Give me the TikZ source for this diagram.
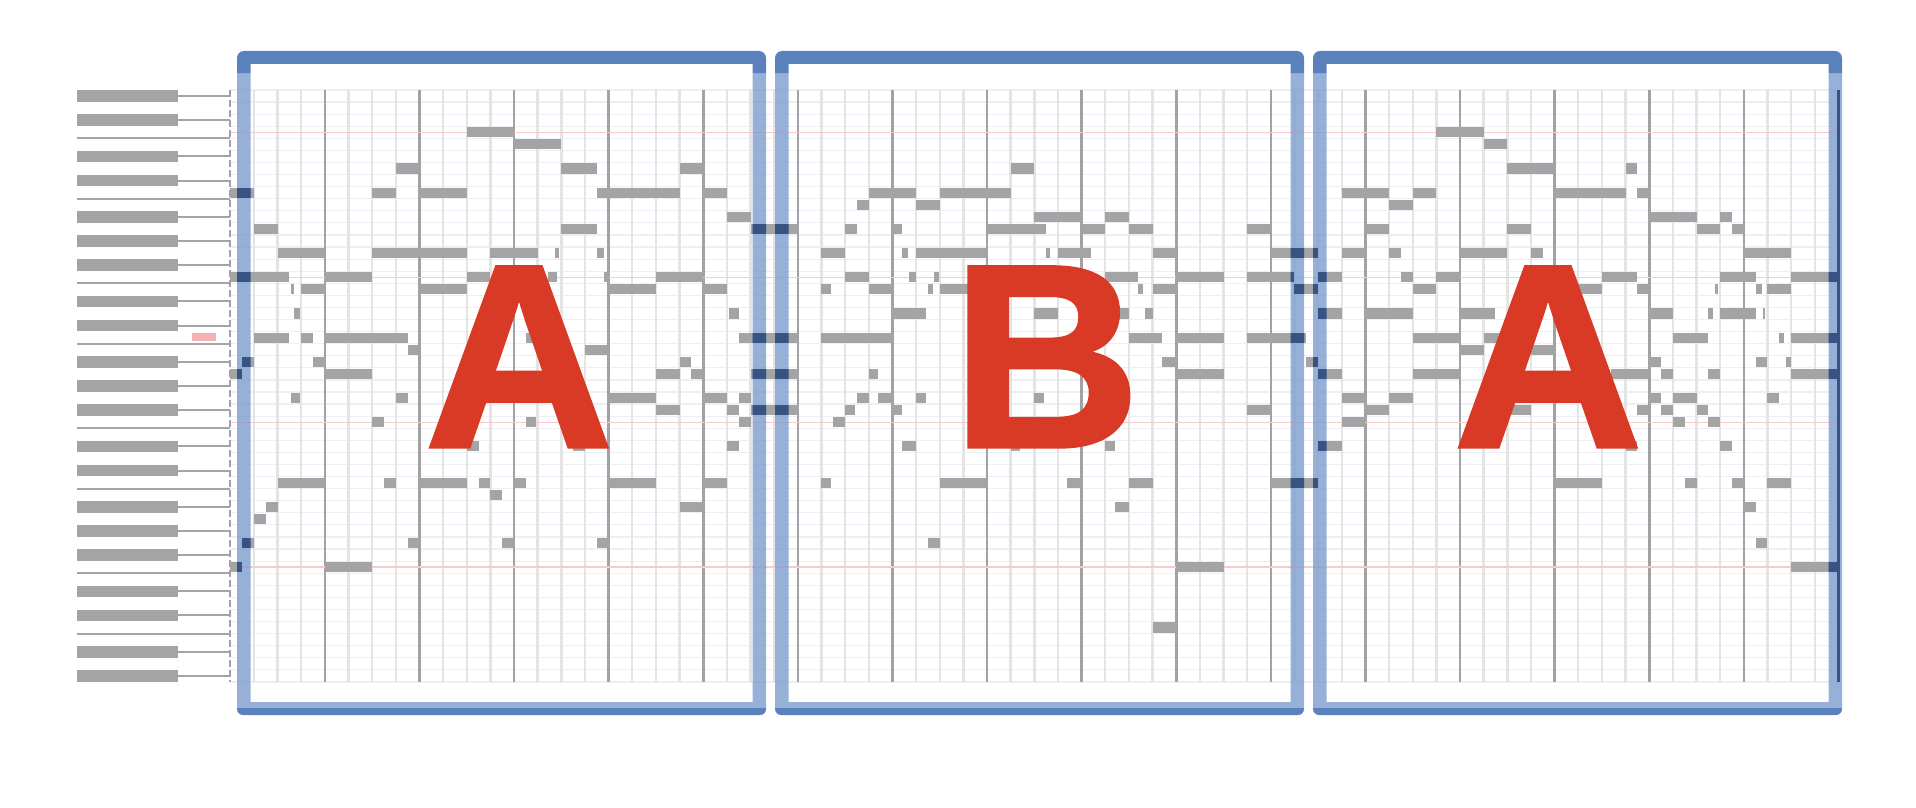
\documentclass[tikz,border=0pt]{standalone}
\usepackage{fontspec}
\setmainfont{Liberation Sans}
\newfontfamily\partfont{Liberation Sans Bold}[FakeBold=1.5]
\definecolor{notegray}{HTML}{A4A4A4}
\definecolor{notenavy}{HTML}{375381}
\definecolor{gridgray}{HTML}{E4E4E4}
\definecolor{beatgray}{HTML}{A2A2A2}
\definecolor{rowgray}{HTML}{EEEEF6}
\definecolor{cpink}{HTML}{F8CACA}
\definecolor{markpink}{HTML}{F4B2B2}
\definecolor{framelight}{HTML}{84A2D0}
\definecolor{framedark}{HTML}{5A81BC}
\definecolor{letterred}{HTML}{D93A25}
% start col / end col / row (row 0 = top of the roll)
\newcommand\rollnotes{%
10/12/3, 12/14/4, 7/8/6, 14/15.5/6, 19/20/6,
0/1/8, 6/7/8, 8/10/8, 15.5/19/8, 20/21/8, 21/22/10,
1/2/11, 14/15.5/11, 22/24/11,
2/4/13, 6/10/13, 11/13/13, 13.75/13.9/13, 15.5/15.8/13,
0/2.5/15, 4/6/15, 10/11/15, 13.45/13.8/15, 15.8/16/15, 18/20/15,
2.55/2.7/16, 3/4/16, 8/10/16, 16/18/16, 20/21/16,
2.7/2.95/18, 21.1/21.5/18,
1/2.5/20, 3/3.5/20, 4/7.5/20, 12.5/12.85/20, 21.5/24/20,
7.5/8/21, 15/16/21, 0.5/1/22, 3.5/4/22, 19/19.5/22,
0/0.5/23, 4/6/23, 18/19/23, 19.5/20/23, 22/24/23,
2.55/2.95/25, 7/7.5/25, 16/18/25, 20/21/25, 21.5/22/25,
18/19/26, 21/21.5/26, 22/24/26, 6/6.5/27, 12.5/12.95/27, 21.5/22/27,
10/10.5/29, 14.5/15/29, 21/21.5/29,
2/4/32, 6.5/7/32, 8/10/32, 10.5/11/32, 12/12.5/32, 16/18/32, 20/21/32,
11/11.5/33, 1.5/2/34, 19/20/34, 1/1.5/35,
0.5/1/37, 7.5/8/37, 11.5/12/37, 15.5/16/37, 0/0.5/39, 4/6/39,
33/34/6, 27/29/8, 30/33/8, 26.5/27/9, 29/30/9, 34/36/10, 37/38/10,
26/26.5/11, 28/28.4/11, 32/34.5/11, 36/37/11, 38/39/11, 43/44/11,
25/26/13, 28.4/28.65/13, 29/32/13, 34.5/34.66/13, 35/36.4/13, 39/40/13, 44/46/13,
26/27/15, 28.7/29/15, 29.75/29.95/15, 37/38.4/15, 40/42/15, 43/45/15,
25/25.4/16, 27/28/16, 29.5/29.7/16, 30/31.2/16, 38.4/38.6/16, 39/40/16, 45/46/16,
28/29.4/18, 34/35/18, 37.3/38/18, 38.7/39/18,
25/28/20, 38/39.4/20, 40/42/20, 43/45.5/20, 39.4/40/22, 45.5/46/22,
27/27.4/23, 40/42/23, 26.5/27/25, 27.4/28/25, 29/29.4/25, 34/34.4/25,
26/26.4/26, 28/28.4/26, 43/44/26, 25.5/26/27, 36.6/37/27,
28.4/29/29, 33/33.4/29, 37/37.4/29,
25/25.4/32, 30/32/32, 35.4/36/32, 38/39/32, 44/46/32,
37.4/38/34, 29.5/30/37, 40/42/39, 39/40/44,
51/53/3, 53/54/4, 54/56/6, 59/59.5/6,
47/49/8, 50/51/8, 56/59/8, 59.5/60/8, 49/50/9, 60/62/10, 63/63.5/10,
48/49/11, 54/55/11, 62/63/11, 63.5/64/11,
47/48/13, 49/49.5/13, 52/54/13, 55/55.5/13, 64/66/13,
46/47/15, 49.5/50/15, 51/52/15, 58/59.5/15, 63/64.5/15, 66/68/15,
50/51/16, 57/58/16, 59.5/60/16, 62.8/62.9/16, 64.5/64.75/16, 65/66/16,
46/47/18, 48/50/18, 52/53.5/18, 60/61/18, 62.5/62.7/18, 63/64.5/18, 64.8/64.9/18,
50/52/20, 53/54/20, 61/62.5/20, 65.5/65.7/20, 66/68/20,
52/53/21, 55/56/21, 60/60.5/22, 64.5/65/22, 65.8/66/22,
46/47/23, 50/52/23, 58.4/60/23, 60.5/61/23, 62.5/63/23, 66/68/23,
47/48/25, 49/50/25, 60/60.5/25, 61/62/25, 65/65.5/25,
48/49/26, 54/55/26, 59.5/60/26, 60.5/61/26, 62/62.5/26,
47/48/27, 61/61.5/27, 62.5/63/27, 46/47/29, 59/59.5/29, 63/63.5/29,
56/58/32, 61.5/62/32, 63.5/64/32, 65/66/32,
64/64.5/34, 64.5/65/37, 66/68/39}
\begin{document}
\begin{tikzpicture}[x=1pt, y=-1pt,
  note/.style={fill=notegray},
  undernote/.style={fill=notenavy},
  rowline/.style={draw=rowgray, line width=1.2pt},
  subline/.style={draw=gridgray, line width=2.4pt},
  beatline/.style={draw=beatgray, line width=2.6pt},
  cline/.style={draw=cpink, line width=1.4pt},
  keyedge/.style={draw=beatgray, line width=2pt, dash pattern=on 7pt off 3pt},
  blackkey/.style={fill=notegray},
  keyline/.style={draw=notegray, line width=2pt},
  sideband/.style={fill=framelight, fill opacity=0.85},
  capband/.style={fill=framedark},
  letter/.style={anchor=base, inner sep=0pt, text=letterred, font=\partfont\fontsize{261}{261}\selectfont}]
\useasboundingbox (0,0) rectangle (1916,808);
% keyboard
\begin{scope}[shift={(0,90)}, y=-12.08pt]
\foreach \r in {0,2,5,7,10,12,14,17,19,22,24,26,29,31,34,36,38,41,43,46,48} {
  \fill[blackkey] (77,\r+0.02) rectangle (178,\r+0.98);
  \draw[keyline] (178,\r+0.5) -- (230.2,\r+0.5);
}
\foreach \b in {4,9,16,21,28,33,40,45}
  \draw[keyline] (77,\b) -- (230.2,\b);
\end{scope}
\fill[markpink] (192,333) rectangle (216,341);
% roll
\begin{scope}[shift={(230.2,90)}, x=23.65pt, y=-12.08pt]
\foreach \k in {0,...,49}
  \draw[rowline] (0,\k) -- (68,\k);
\foreach \c in {1,...,67}
  \draw[subline] (\c,0) -- (\c,49);
\foreach \c in {4,8,...,68}
  \draw[beatline] (\c,0) -- (\c,49);
\foreach \r in {3,15,27,39}
  \draw[cline] (0,\r+0.5) -- (68,\r+0.5);
\draw[keyedge] (0,0) -- (0,49);
\foreach \a/\b/\r in \rollnotes
  \fill[note] (\a,\r+0.08) rectangle (\b,\r+0.92);
\end{scope}
% frames
\foreach \xa/\xb in {237/766, 775/1304, 1313/1842}
  \fill[sideband] (\xa,73) rectangle (\xa+13.5,708) (\xb-13.5,73) rectangle (\xb,708) (\xa+13.5,702) rectangle (\xb-13.5,708);
\begin{scope}
\clip (237,73) rectangle (250.5,702) (752.5,73) rectangle (766,702)
  (775,73) rectangle (788.5,702) (1290.5,73) rectangle (1304,702)
  (1313,73) rectangle (1326.5,702) (1828.5,73) rectangle (1842,702);
\begin{scope}[shift={(230.2,90)}, x=23.65pt, y=-12.08pt]
\foreach \a/\b/\r in \rollnotes
  \fill[undernote] (\a,\r+0.08) rectangle (\b,\r+0.92);
\draw[beatline, draw=notenavy] (68,0) -- (68,49);
\end{scope}
\end{scope}
\foreach \xa/\xb in {237/766, 775/1304, 1313/1842} {
  \fill[capband] (\xa,73) -- (\xa,58) arc[start angle=180, end angle=270, radius=7] -- (\xb-7,51)
    arc[start angle=270, end angle=360, radius=7] -- (\xb,73) -- (\xb-13.5,73) -- (\xb-13.5,64)
    -- (\xa+13.5,64) -- (\xa+13.5,73) -- cycle;
  \fill[capband] (\xa,708) -- (\xb,708) -- (\xb,709) arc[start angle=0, end angle=90, radius=6]
    -- (\xa+6,715) arc[start angle=90, end angle=180, radius=6] -- cycle;
}
% section letters
\node[letter] (partA) at (519,446.7) {A};
\node[letter] (partB) at (1046,446.7) {B};
\node[letter] (partA2) at (1548,446.7) {A};
\end{tikzpicture}
\end{document}
